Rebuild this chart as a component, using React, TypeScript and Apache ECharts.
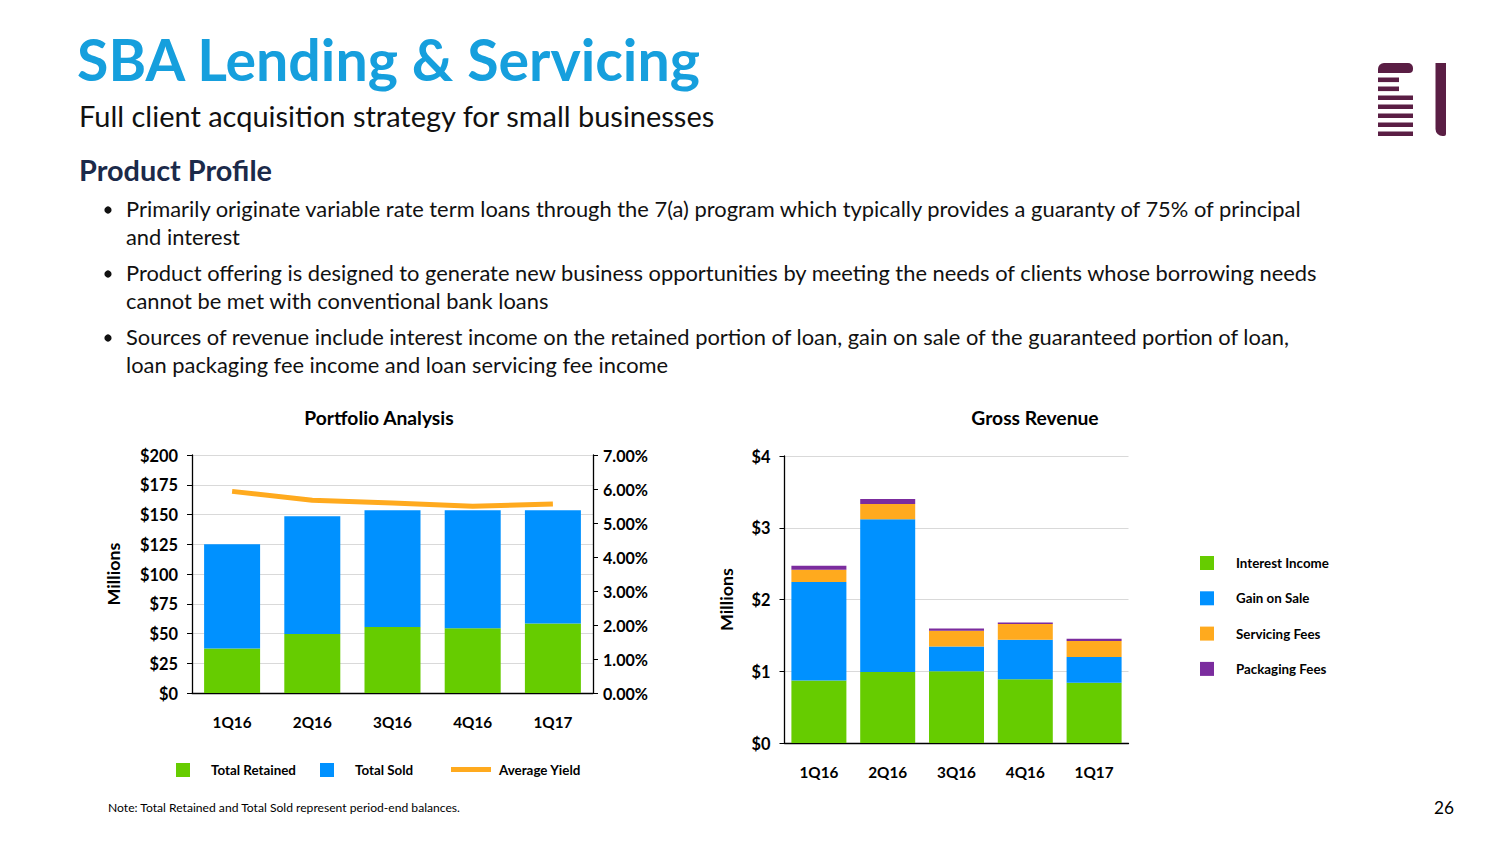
import React, { useEffect, useRef } from "react";
import * as echarts from "echarts";

const categories = ["1Q16", "2Q16", "3Q16", "4Q16", "1Q17"];
const totalRetained = [37.5, 49.5, 55.5, 54.5, 58.5];
const totalSold = [87.5, 99, 98, 99, 95];
const averageYield = [5.93, 5.67, 5.59, 5.49, 5.56];

const interestIncome = [0.87, 0.99, 1.0, 0.89, 0.84];
const gainOnSale = [1.375, 2.13, 0.345, 0.55, 0.36];
const servicingFees = [0.17, 0.21, 0.22, 0.22, 0.22];
const packagingFees = [0.055, 0.07, 0.03, 0.02, 0.032];

const bullets = [
  [
    "Primarily originate variable rate term loans through the 7(a) program which typically provides a guaranty of 75% of principal",
    "and interest",
  ],
  [
    "Product offering is designed to generate new business opportunities by meeting the needs of clients whose borrowing needs",
    "cannot be met with conventional bank loans",
  ],
  [
    "Sources of revenue include interest income on the retained portion of loan, gain on sale of the guaranteed portion of loan,",
    "loan packaging fee income and loan servicing fee income",
  ],
];

const FONT = "Lato";
const GREEN = "#66CC00";
const BLUE = "#0091FF";
const ORANGE = "#FFAA1E";
const PURPLE = "#7B2C9E";
const LOGO = "#5A1E44";

export default function App() {
  const ref = useRef<HTMLDivElement>(null);
  useEffect(() => {
    if (!ref.current) return;
    const chart = echarts.init(ref.current, null, { renderer: "svg" });
    const ctx = document.createElement("canvas").getContext("2d")!;
    const fit = (text: string, weight: string, target: number) => {
      ctx.font = `${weight} 100px ${FONT}`;
      return (100 * target) / ctx.measureText(text).width;
    };
    const sTitle = fit("SBA Lending & Servicing", "bold", 625);
    const sSub = fit("Full client acquisition strategy for small businesses", "normal", 637);
    const sProd = fit("Product Profile", "bold", 193);
    const sBullet = fit(bullets[0][0], "normal", 1179);
    const sChartTitle = fit("Portfolio Analysis", "bold", 150);
    const sAxis = fit("$200", "bold", 38);
    const sPct = fit("7.00%", "bold", 45);
    const sCat = fit("1Q16", "bold", 39);
    const sLeg = fit("Total Retained", "bold", 85);
    const sLeg2 = fit("Interest Income", "bold", 93);
    const sNote = fit("Note: Total Retained and Total Sold represent period-end balances.", "normal", 353);
    const sPage = fit("26", "normal", 20);
    const sMill = fit("Millions", "bold", 63);

    const txt = (text: string, x: number, y: number, size: number, weight: string, fill: string, align = "left") => ({
      type: "text",
      x,
      y,
      silent: true,
      style: { text, fontFamily: FONT, fontSize: size, fontWeight: weight, fill, align, verticalAlign: "middle" },
    });

    const graphics: any[] = [
      txt("SBA Lending & Servicing", 77, 58, sTitle, "bold", "#169FDD"),
      txt("Full client acquisition strategy for small businesses", 79, 115, sSub, "normal", "#111111"),
      txt("Product Profile", 79, 170, sProd, "bold", "#1B2A4A"),
      txt("Portfolio Analysis", 379, 417, sChartTitle, "bold", "#000000", "center"),
      txt("Gross Revenue", 1035, 417, sChartTitle, "bold", "#000000", "center"),
      txt("Note: Total Retained and Total Sold represent period-end balances.", 108, 807, sNote, "normal", "#000000"),
      txt("26", 1444, 807, sPage, "normal", "#000000", "center"),
    ];
    const lineYs = [[208.5, 236.5], [272.5, 300.5], [336.5, 364.5]];
    bullets.forEach((b, i) => {
      graphics.push({ type: "circle", silent: true, shape: { cx: 108, cy: lineYs[i][0] + 1.5, r: 3.6 }, style: { fill: "#111111" } });
      b.forEach((line, j) => graphics.push(txt(line, 126, lineYs[i][j], sBullet, "normal", "#111111")));
    });
    // logo
    graphics.push({ type: "rect", silent: true, shape: { x: 1378, y: 63, width: 35, height: 10, r: [6, 5, 4, 0] }, style: { fill: LOGO } });
    [[77.5, 21], [86.5, 21], [95.5, 35], [104.5, 35], [113.5, 35], [122.5, 35], [131.5, 35]].forEach(([y, w]) =>
      graphics.push({ type: "rect", silent: true, shape: { x: 1378, y, width: w, height: 4.6 }, style: { fill: LOGO } })
    );
    graphics.push({ type: "rect", silent: true, shape: { x: 1435.5, y: 63, width: 10.5, height: 73, r: [0, 0, 2, 7] }, style: { fill: LOGO } });

    const axisLbl = { fontFamily: FONT, fontWeight: "bold", color: "#000" };

    chart.setOption({
      animation: false,
      textStyle: { fontFamily: FONT },
      grid: [
        { left: 192, top: 455, width: 401, height: 238 },
        { left: 784.5, top: 456, width: 344, height: 287 },
      ],
      legend: [
        { data: ["Total Retained"], padding: 0, left: 176, top: 763, itemWidth: 14, itemHeight: 14, icon: "rect", textStyle: { ...axisLbl, fontSize: sLeg, padding: [0, 0, 0, 16] } },
        { data: ["Total Sold"], padding: 0, left: 320, top: 763, itemWidth: 14, itemHeight: 14, icon: "rect", textStyle: { ...axisLbl, fontSize: sLeg, padding: [0, 0, 0, 16] } },
        { data: ["Average Yield"], padding: 0, left: 451, top: 763, itemWidth: 40, itemHeight: 5, icon: "rect", textStyle: { ...axisLbl, fontSize: sLeg, padding: [0, 0, 0, 3] } },
        {
          data: ["Interest Income", "Gain on Sale", "Servicing Fees", "Packaging Fees"],
          orient: "vertical",
          padding: 0,
          left: 1200,
          top: 556,
          itemWidth: 14,
          itemHeight: 14,
          itemGap: 21.3,
          icon: "rect",
          textStyle: { ...axisLbl, fontSize: sLeg2, padding: [0, 0, 0, 17] },
        },
      ],
      xAxis: [
        {
          type: "category",
          gridIndex: 0,
          data: categories,
          axisLine: { lineStyle: { color: "#000", width: 1.3 } },
          axisTick: { alignWithLabel: true, length: 5, lineStyle: { color: "#000" } },
          axisLabel: { ...axisLbl, fontSize: sCat, margin: 21 },
        },
        {
          type: "category",
          gridIndex: 1,
          data: categories,
          axisLine: { lineStyle: { color: "#000", width: 1.3 } },
          axisTick: { alignWithLabel: true, length: 5, lineStyle: { color: "#000" } },
          axisLabel: { ...axisLbl, fontSize: sCat, margin: 21 },
        },
      ],
      yAxis: [
        {
          type: "value",
          gridIndex: 0,
          min: 0,
          max: 200,
          interval: 25,
          name: "Millions",
          nameLocation: "middle",
          nameRotate: 90,
          nameGap: 70,
          nameTextStyle: { ...axisLbl, fontSize: sMill },
          axisLine: { show: true, lineStyle: { color: "#000", width: 1.3 } },
          axisTick: { show: true, length: 5, lineStyle: { color: "#000" } },
          splitLine: { lineStyle: { color: "#D9D9D9" } },
          axisLabel: { ...axisLbl, fontSize: sAxis, margin: 14, formatter: (v: number) => "$" + v },
        },
        {
          type: "value",
          gridIndex: 0,
          position: "right",
          min: 0,
          max: 7,
          interval: 1,
          axisLine: { show: true, lineStyle: { color: "#000", width: 1.3 } },
          axisTick: { show: true, length: 5, lineStyle: { color: "#000" } },
          splitLine: { show: false },
          axisLabel: { ...axisLbl, fontSize: sPct, margin: 10, formatter: (v: number) => v.toFixed(2) + "%" },
        },
        {
          type: "value",
          gridIndex: 1,
          min: 0,
          max: 4,
          interval: 1,
          name: "Millions",
          nameLocation: "middle",
          nameRotate: 90,
          nameGap: 50,
          nameTextStyle: { ...axisLbl, fontSize: sMill },
          axisLine: { show: true, lineStyle: { color: "#000", width: 1.3 } },
          axisTick: { show: true, length: 5, lineStyle: { color: "#000" } },
          splitLine: { lineStyle: { color: "#D9D9D9" } },
          axisLabel: { ...axisLbl, fontSize: sAxis, margin: 14, formatter: (v: number) => "$" + v },
        },
      ],
      series: [
        { name: "Total Retained", type: "bar", stack: "p", xAxisIndex: 0, yAxisIndex: 0, barWidth: 56, data: totalRetained, itemStyle: { color: GREEN } },
        { name: "Total Sold", type: "bar", stack: "p", xAxisIndex: 0, yAxisIndex: 0, barWidth: 56, data: totalSold, itemStyle: { color: BLUE } },
        { name: "Average Yield", type: "line", xAxisIndex: 0, yAxisIndex: 1, data: averageYield, showSymbol: false, symbol: "none", lineStyle: { color: ORANGE, width: 5 }, itemStyle: { color: ORANGE } },
        { name: "Interest Income", type: "bar", stack: "g", xAxisIndex: 1, yAxisIndex: 2, barWidth: 55, data: interestIncome, itemStyle: { color: GREEN } },
        { name: "Gain on Sale", type: "bar", stack: "g", xAxisIndex: 1, yAxisIndex: 2, barWidth: 55, data: gainOnSale, itemStyle: { color: BLUE } },
        { name: "Servicing Fees", type: "bar", stack: "g", xAxisIndex: 1, yAxisIndex: 2, barWidth: 55, data: servicingFees, itemStyle: { color: ORANGE } },
        { name: "Packaging Fees", type: "bar", stack: "g", xAxisIndex: 1, yAxisIndex: 2, barWidth: 55, data: packagingFees, itemStyle: { color: PURPLE } },
      ],
      graphic: graphics,
    });
    return () => chart.dispose();
  }, []);
  return <div ref={ref} style={{ position: "absolute", left: 0, top: 0, width: 1504, height: 846, background: "#fff" }} />;
}
